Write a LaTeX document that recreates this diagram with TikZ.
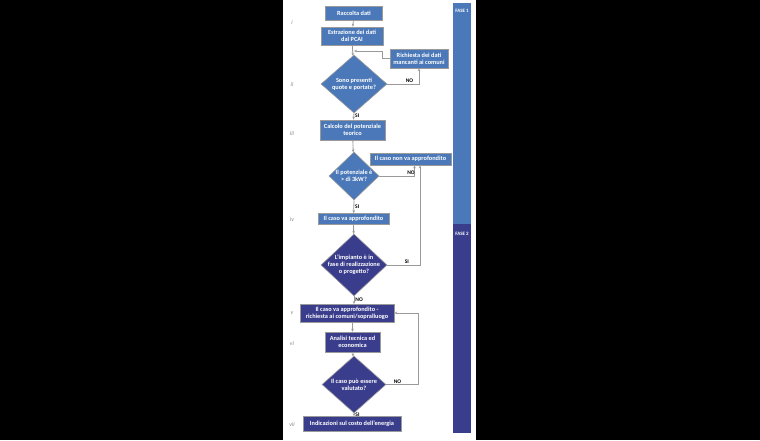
\documentclass[tikz,border=0pt]{standalone}
\usepackage{fontspec}
\setmainfont{Carlito}
\usetikzlibrary{shapes.geometric,arrows.meta}
\definecolor{lb}{HTML}{4A78B8}
\definecolor{db}{HTML}{3A3D8C}
\definecolor{ln}{HTML}{9A9A9A}
\definecolor{rn}{HTML}{8A8A8A}
\tikzset{
 box/.style={draw=ln,line width=0.6pt,text=white,font=\fontsize{6.3}{7}\selectfont\bfseries,align=center,inner sep=0pt},
 lbox/.style={box,fill=lb},
 dbox/.style={box,fill=db},
 dia/.style={diamond,draw=ln,line width=0.6pt,inner sep=0pt},
 dtxt/.style={text=white,font=\fontsize{6.3}{7}\selectfont\bfseries,align=center,inner sep=0pt},
 lab/.style={font=\fontsize{5.5}{6}\selectfont\bfseries,inner sep=1pt},
 rom/.style={text=rn,font=\fontsize{6}{6}\selectfont\itshape},
 con/.style={draw=ln,line width=0.8pt,-{Stealth[length=3pt,width=2.5pt]}},
}
\begin{document}
\begin{tikzpicture}[x=1pt,y=-1pt]
\fill[black] (0,0) rectangle (760,440);
\fill[white] (283,0) rectangle (476,440);
\useasboundingbox (0,0) rectangle (760,440);
% phase bars
\node[fill=lb,minimum width=18pt,minimum height=221pt,inner sep=0pt,anchor=north west] (f1) at (453,3) {};
\node[fill=db,minimum width=18pt,minimum height=209pt,inner sep=0pt,anchor=north west] (f2) at (453,224) {};
\node[text=white,font=\fontsize{5}{5}\selectfont\bfseries,anchor=north] (t1) at (462,6) {FASE 1};
\node[text=white,font=\fontsize{5}{5}\selectfont\bfseries,anchor=north] (t2) at (462,229) {FASE 2};
% nodes
\node[lbox,minimum width=57pt,minimum height=14pt] (a) at (354,13) {Raccolta dati};
\node[lbox,minimum width=62pt,minimum height=18pt] (b) at (352,36) {Estrazione dei dati\\dal PCAI};
\node[lbox,minimum width=58pt,minimum height=19pt] (r) at (419,58.5) {Richiesta dei dati\\mancanti ai comuni};
\node[dia,fill=lb,minimum width=66pt,minimum height=58pt] (d1) at (354,84) {};
\node[dtxt] at (d1) {Sono presenti\\quote e portate?};
\node[lbox,minimum width=65pt,minimum height=20pt] (c) at (352.5,130) {Calcolo del potenziale\\teorico};
\node[lbox,minimum width=81pt,minimum height=12pt] (n) at (410.5,159) {Il caso non va approfondito};
\node[dia,fill=lb,minimum width=50pt,minimum height=48pt] (d2) at (354,176) {};
\node[dtxt] at (d2) {Il potenziale è\\> di 3kW?};
\node[lbox,minimum width=71pt,minimum height=11pt] (v) at (353.5,219) {Il caso va approfondito};
\node[dia,fill=db,minimum width=66pt,minimum height=62pt] (d3) at (354,265) {};
\node[dtxt] at (d3) {L'impianto è in\\fase di realizzazione\\o progetto?};
\node[dbox,minimum width=94pt,minimum height=18pt] (w) at (347,313) {Il caso va approfondito -\\richiesta ai comuni/sopralluogo};
\node[dbox,minimum width=55pt,minimum height=20pt] (an) at (352.5,342) {Analisi tecnica ed\\economica};
\node[dia,fill=db,minimum width=64pt,minimum height=57pt] (d4) at (354,384.5) {};
\node[dtxt] at (d4) {Il caso può essere\\valutato?};
\node[dbox,minimum width=98pt,minimum height=15pt] (z) at (352,424) {Indicazioni sul costo dell'energia};
% roman numerals
\node[rom] (i1) at (292,22) {i};
\node[rom] (i2) at (292,84) {ii};
\node[rom] (i3) at (292,133) {iii};
\node[rom] (i4) at (292,219) {iv};
\node[rom] (i5) at (292,313) {v};
\node[rom] (i6) at (292,343) {vi};
\node[rom] (i7) at (292,424) {vii};
% connectors
\draw[con] (a) -- (b);
\draw[con] (b) -- (d1);
\draw[con] (r.west) -- ++(-7,0) |- (354,51);
\draw[con] (d1.east) -| node[lab,pos=0.35,above] {NO} (r.south);
\draw[con] (d1.south) -- node[lab,right,pos=0.4] {SI} (c);
\draw[con] (c) -- (d2);
\draw[con] (d2.east) -| node[lab,pos=0.45,above] {NO} ([xshift=4pt]n.south);
\draw[con] (d2.south) -- node[lab,right,pos=0.5] {SI} (v);
\draw[con] (v) -- (d3);
\draw[con] (d3.east) -| node[lab,pos=0.3,above] {SI} ([xshift=9.5pt]n.south);
\draw[con] (d3.south) -- node[lab,right,pos=0.4] {NO} (354,304);
\draw[con] (w.south-|an) -- (an);
\draw[con] (an) -- (d4);
\draw[con] (d4.east) -- node[lab,pos=0.35,above] {NO} ++(32,0) |- (w.east);
\draw[con] (d4.south) -- node[lab,right,pos=0.4] {SI} (z.north-|d4);
\end{tikzpicture}
\end{document}
